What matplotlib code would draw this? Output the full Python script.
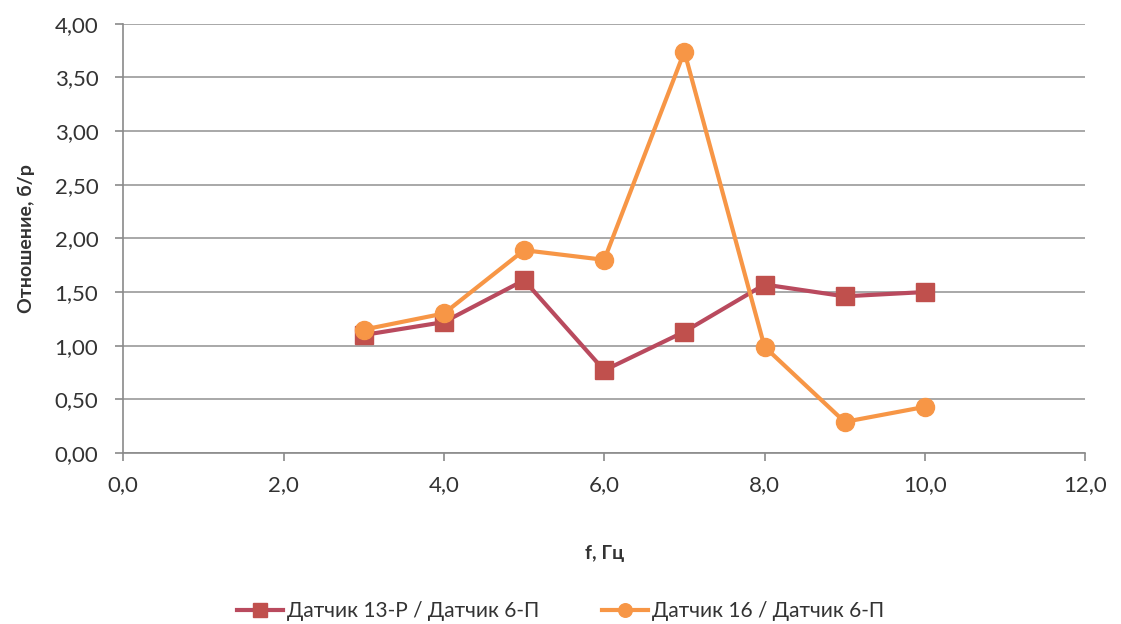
import numpy as np
import matplotlib.pyplot as plt
from matplotlib.ticker import FuncFormatter, MultipleLocator

plt.rcParams['font.family'] = ['Lato', 'DejaVu Sans']

# data
freq = [3, 4, 5, 6, 7, 8, 9, 10]
ratio_13r = [1.10, 1.22, 1.61, 0.77, 1.13, 1.57, 1.46, 1.50]
ratio_16 = [1.15, 1.30, 1.89, 1.80, 3.74, 0.99, 0.29, 0.43]
label_13r = 'Датчик 13-Р / Датчик 6-П'
label_16 = 'Датчик 16 / Датчик 6-П'

fig = plt.figure(figsize=(11.21, 6.24), dpi=100)
ax = fig.add_axes([0.110, 0.274, 0.858, 0.688])

ax.plot(freq, ratio_13r, color='#B94A5E', lw=3, marker='s', ms=13,
        mfc='#C0504D', mec='#C0504D', label=label_13r, zorder=3)
ax.plot(freq, ratio_16, color='#F79646', lw=3, marker='o', ms=13,
        mfc='#F79646', mec='#F79646', label=label_16, zorder=4)

ax.set_xlim(0, 12)
ax.set_ylim(0, 4)
ax.xaxis.set_major_locator(MultipleLocator(2))
ax.yaxis.set_major_locator(MultipleLocator(0.5))
ax.xaxis.set_major_formatter(FuncFormatter(lambda v, p: f'{v:.1f}'.replace('.', ',')))
ax.yaxis.set_major_formatter(FuncFormatter(lambda v, p: f'{v:.2f}'.replace('.', ',')))

ax.grid(axis='y', color='#9a9a9a', lw=1.2)
ax.set_axisbelow(True)
for s in ['top', 'right']:
    ax.spines[s].set_visible(False)
for s in ['left', 'bottom']:
    ax.spines[s].set_color('#8a8a8a')
    ax.spines[s].set_linewidth(1.2)
ax.tick_params(axis='both', colors='#8a8a8a', length=6, width=1.2, labelsize=16,
               labelcolor='#333333')
ax.tick_params(axis='y', pad=12)
ax.tick_params(axis='x', pad=10)

ax.set_xlabel('f, Гц', fontsize=14, fontweight='bold', color='#333333', labelpad=36)
ax.set_ylabel('Отношение, б/р', fontsize=14, fontweight='bold', color='#333333', labelpad=14)

fig.legend(loc='lower center', bbox_to_anchor=(0.5, -0.025), ncol=2, frameon=False,
           fontsize=15, handlelength=2.2, handletextpad=0.2, columnspacing=3.0,
           markerscale=0.75, labelcolor='#333333')

fig.savefig('out.png', dpi=100)
